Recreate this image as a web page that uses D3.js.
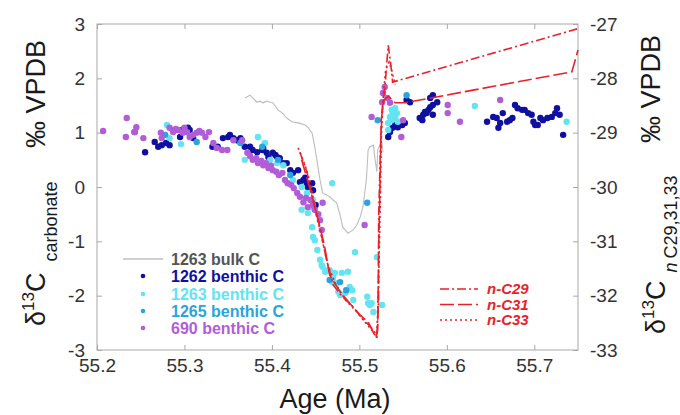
<!DOCTYPE html>
<html>
<head>
<meta charset="utf-8">
<script src="https://cdn.jsdelivr.net/npm/d3@7"></script>
<style>
  body { margin: 0; background: #fff; }
  svg { font-family: "Liberation Sans", Arial, sans-serif; }
</style>
</head>
<body>
<div id="chart"></div>
<script>
// ages (Ma) and d13C values
const xTicks = [55.2, 55.3, 55.4, 55.5, 55.6, 55.7];
const leftTicks = [-3, -2, -1, 0, 1, 2, 3];
const rightTicks = [-33, -32, -31, -30, -29, -28, -27];

// 1263 bulk carbonate (line)
const bulk1263 = [
  [55.369, 1.64], [55.375, 1.69], [55.378, 1.64], [55.383, 1.56], [55.386, 1.58], [55.390, 1.55],
  [55.394, 1.58], [55.398, 1.56], [55.401, 1.55], [55.407, 1.42], [55.412, 1.36], [55.417, 1.27],
  [55.423, 1.20], [55.430, 1.18], [55.438, 1.14], [55.441, 1.10], [55.446, 0.99], [55.449, 0.74],
  [55.452, 0.44], [55.455, 0.13], [55.458, -0.11], [55.463, -0.15], [55.466, -0.18], [55.470, -0.24],
  [55.474, -0.29], [55.478, -0.52], [55.481, -0.74], [55.487, -0.85], [55.493, -0.79], [55.497, -0.70],
  [55.501, -0.55], [55.504, -0.37], [55.508, 0.13], [55.510, 0.68], [55.512, 0.74], [55.516, 0.77],
  [55.518, 0.50], [55.520, 0.28], [55.521, 0.68], [55.524, 0.79], [55.526, 0.81], [55.527, 0.64]
];

// 1262 benthic
const benthic1262 = [
  [55.243, 1.01], [55.255, 0.64], [55.266, 0.83], [55.270, 0.74], [55.274, 0.77], [55.279, 0.81],
  [55.283, 0.77], [55.289, 1.05], [55.295, 0.92], [55.297, 1.05], [55.304, 1.09], [55.306, 1.05],
  [55.310, 0.90], [55.332, 0.74], [55.338, 0.74], [55.344, 0.90], [55.350, 0.92], [55.352, 0.96],
  [55.356, 0.90], [55.360, 0.86], [55.364, 0.90], [55.369, 0.74], [55.375, 0.74], [55.378, 0.68],
  [55.383, 0.64], [55.389, 0.68], [55.390, 0.72], [55.394, 0.63], [55.396, 0.55], [55.401, 0.63],
  [55.404, 0.59], [55.406, 0.55], [55.409, 0.53], [55.413, 0.44], [55.417, 0.44], [55.421, 0.31],
  [55.424, 0.26], [55.430, 0.31], [55.432, 0.09], [55.436, 0.13], [55.438, 0.17], [55.440, 0.07],
  [55.441, 0.00], [55.446, 0.07], [55.447, -0.06], [55.450, -0.33],
  [55.533, 0.92], [55.535, 1.01], [55.538, 1.09], [55.541, 1.14], [55.544, 1.10], [55.549, 1.14],
  [55.552, 1.18], [55.554, 1.60], [55.558, 1.56], [55.569, 1.27], [55.572, 1.23], [55.573, 1.33],
  [55.575, 1.38], [55.577, 1.36], [55.579, 1.42], [55.581, 1.47], [55.581, 1.64], [55.584, 1.69],
  [55.584, 1.51], [55.589, 1.56], [55.584, 1.33], [55.646, 1.20], [55.653, 1.29], [55.657, 1.27],
  [55.659, 1.09], [55.661, 1.18], [55.664, 1.36], [55.669, 1.20], [55.672, 1.23], [55.675, 1.27],
  [55.678, 1.51], [55.681, 1.45], [55.686, 1.42], [55.689, 1.42], [55.693, 1.36], [55.697, 1.33],
  [55.699, 1.20], [55.701, 1.14], [55.704, 1.14], [55.707, 1.27], [55.710, 1.23], [55.715, 1.27],
  [55.720, 1.29], [55.724, 1.36], [55.726, 1.45], [55.729, 1.33], [55.733, 0.96]
];

// 1263 benthic
const benthic1263 = [
  [55.280, 1.14], [55.283, 0.90], [55.296, 0.79], [55.384, 0.92], [55.392, 0.81], [55.369, 0.50],
  [55.398, 0.50], [55.406, 0.44], [55.413, 0.40], [55.424, 0.13], [55.434, 0.00], [55.440, -0.11],
  [55.447, -0.24], [55.444, -0.37], [55.469, 0.07], [55.434, -0.42], [55.441, -0.48], [55.446, -0.74],
  [55.447, -0.92], [55.449, -0.98], [55.452, -1.16], [55.455, -1.34], [55.457, -1.44], [55.458, -1.47],
  [55.461, -1.56], [55.464, -1.53], [55.466, -1.53], [55.470, -1.66], [55.472, -1.58], [55.480, -1.58],
  [55.487, -1.56], [55.469, -1.75], [55.474, -1.77], [55.476, -1.93], [55.478, -1.99], [55.484, -1.95],
  [55.489, -1.84], [55.492, -1.90], [55.493, -2.08], [55.509, -2.02], [55.510, -2.14], [55.512, -2.17],
  [55.514, -2.14], [55.516, -2.30], [55.526, -2.17], [55.495, -1.20], [55.520, -1.29],
  [55.537, 1.42], [55.541, 1.45], [55.538, 1.36], [55.535, 1.29], [55.541, 1.29], [55.537, 1.23],
  [55.533, 1.18], [55.544, 1.20], [55.543, 1.36], [55.533, 1.05], [55.632, 1.49], [55.737, 1.20]
];

// 1265 benthic
const benthic1265 = [
  [55.278, 0.96], [55.314, 0.83], [55.364, 0.81], [55.389, 0.74], [55.407, 0.50], [55.421, 0.22],
  [55.466, -1.71], [55.478, -1.75], [55.485, -1.90], [55.509, -0.29], [55.521, 1.23], [55.554, 1.69]
];

// 690 benthic
const benthic690 = [
  [55.207, 1.03], [55.234, 1.27], [55.233, 0.92], [55.245, 1.10], [55.243, 1.01], [55.253, 0.90],
  [55.273, 1.00], [55.274, 0.90], [55.283, 1.09], [55.287, 1.01], [55.290, 1.07], [55.293, 1.05],
  [55.298, 1.00], [55.300, 1.09], [55.303, 1.01], [55.306, 0.92], [55.310, 0.96], [55.314, 1.00],
  [55.317, 1.03], [55.320, 1.00], [55.324, 0.92], [55.328, 1.01], [55.333, 0.81], [55.337, 0.72],
  [55.343, 0.68], [55.349, 0.68], [55.356, 0.86], [55.366, 0.86], [55.372, 0.63], [55.375, 0.57],
  [55.378, 0.50], [55.382, 0.53], [55.384, 0.44], [55.388, 0.48], [55.390, 0.40], [55.393, 0.44],
  [55.396, 0.35], [55.399, 0.39], [55.401, 0.31], [55.405, 0.28], [55.408, 0.22], [55.412, 0.26],
  [55.415, 0.13], [55.418, 0.07], [55.422, 0.04], [55.425, -0.02], [55.429, -0.11], [55.432, -0.18],
  [55.436, -0.28], [55.439, -0.20], [55.441, -0.37], [55.444, -0.24], [55.447, -0.33], [55.449, -0.42],
  [55.453, -0.50], [55.455, -0.61], [55.457, -0.79], [55.458, -0.29], [55.506, -0.70], [55.514, 1.29],
  [55.526, 1.56], [55.527, 1.73], [55.529, 1.84], [55.532, 1.64], [55.535, 1.55], [55.548, 0.92],
  [55.550, 1.23], [55.601, 1.51], [55.601, 1.36], [55.615, 1.20], [55.661, 1.60]
];

// n-alkane d13C (right axis)
const nC29 = [
  [55.432, -29.36], [55.440, -29.72], [55.447, -30.24], [55.455, -30.75], [55.462, -31.31],
  [55.470, -31.80], [55.480, -32.01], [55.492, -32.19], [55.503, -32.41], [55.512, -32.56],
  [55.520, -32.72], [55.522, -32.08], [55.522, -30.61], [55.524, -29.32], [55.526, -28.58],
  [55.529, -28.21], [55.533, -27.39], [55.536, -27.75], [55.538, -28.07], [55.749, -27.09]
];
const nC31 = [
  [55.434, -29.50], [55.444, -30.06], [55.453, -30.61], [55.460, -31.07], [55.466, -31.62],
  [55.478, -31.93], [55.489, -32.14], [55.501, -32.36], [55.510, -32.48], [55.519, -32.78],
  [55.521, -32.63], [55.522, -31.16], [55.524, -29.69], [55.525, -28.77], [55.528, -28.40],
  [55.533, -28.33], [55.541, -28.45], [55.552, -28.45], [55.743, -27.88], [55.750, -27.48]
];
const nC33 = [
  [55.430, -29.28], [55.438, -29.60], [55.444, -29.93], [55.450, -30.42], [55.457, -30.94],
  [55.464, -31.44], [55.472, -31.75], [55.484, -32.08], [55.495, -32.26], [55.506, -32.48],
  [55.517, -32.69], [55.520, -32.78], [55.522, -31.71], [55.524, -30.24], [55.525, -29.14],
  [55.527, -28.40], [55.530, -27.85], [55.534, -27.70], [55.537, -27.85], [55.541, -28.12]
];

const benthicSeries = [
  {name: "1262 benthic C", data: benthic1262, color: "#1010a0"},
  {name: "1263 benthic C", data: benthic1263, color: "#62e4f2"},
  {name: "1265 benthic C", data: benthic1265, color: "#2aa4dc"},
  {name: "690 benthic C", data: benthic690, color: "#b25cd8"}
];
const alkaneSeries = [
  {name: "n-C29", data: nC29, dash: "9,3,2,3"},
  {name: "n-C31", data: nC31, dash: "14,4"},
  {name: "n-C33", data: nC33, dash: "2,3"}
];

const W = 680, H = 415;
const plot = {left: 97, right: 578, top: 24, bottom: 350};
const red = "#e8222a";
const frameColor = "#a8a8a8";
const tickText = "#333";

const svg = d3.select("#chart").append("svg")
  .attr("width", W).attr("height", H);

const x = d3.scaleLinear().domain([55.2, 55.75]).range([plot.left, plot.right]);
const yL = d3.scaleLinear().domain([-3, 3]).range([plot.bottom, plot.top]);
const yR = d3.scaleLinear().domain([-33, -27]).range([plot.bottom, plot.top]);

// frame
svg.append("rect")
  .attr("x", plot.left).attr("y", plot.top)
  .attr("width", plot.right - plot.left).attr("height", plot.bottom - plot.top)
  .attr("fill", "none").attr("stroke", frameColor).attr("stroke-width", 1);

function styleAxis(g, size) {
  g.select(".domain").remove();
  g.selectAll(".tick line").attr("stroke", frameColor);
  g.selectAll(".tick text").attr("fill", tickText).attr("font-size", size);
}

const minus = d => d3.format("d")(d).replace("\u2212", "-");

svg.append("g")
  .attr("transform", `translate(0,${plot.bottom})`)
  .call(d3.axisBottom(x).tickValues(xTicks).tickFormat(d3.format(".1f")).tickSize(-5).tickPadding(9))
  .call(g => styleAxis(g, 19));

svg.append("g")
  .attr("transform", `translate(0,${plot.top})`)
  .call(d3.axisTop(x).tickValues(xTicks).tickFormat("").tickSize(-5))
  .call(g => styleAxis(g, 19));

svg.append("g")
  .attr("transform", `translate(${plot.left},0)`)
  .call(d3.axisLeft(yL).tickValues(leftTicks).tickFormat(minus).tickSize(-5).tickPadding(12))
  .call(g => styleAxis(g, 19));

svg.append("g")
  .attr("transform", `translate(${plot.right},0)`)
  .call(d3.axisRight(yR).tickValues(rightTicks).tickFormat(minus).tickSize(-5).tickPadding(12))
  .call(g => styleAxis(g, 19));

// bulk line
const lineL = d3.line().x(d => x(d[0])).y(d => yL(d[1]));
svg.append("path")
  .datum(bulk1263)
  .attr("d", lineL)
  .attr("fill", "none")
  .attr("stroke", "#bdbdbd")
  .attr("stroke-width", 1.1);

// benthic dots
benthicSeries.forEach(s => {
  svg.append("g")
    .selectAll("circle")
    .data(s.data)
    .join("circle")
    .attr("cx", d => x(d[0]))
    .attr("cy", d => yL(d[1]))
    .attr("r", 3.2)
    .attr("fill", s.color);
});

// n-alkane lines on the right axis
const lineR = d3.line().x(d => x(d[0])).y(d => yR(d[1]));
alkaneSeries.forEach(s => {
  svg.append("path")
    .datum(s.data)
    .attr("d", lineR)
    .attr("fill", "none")
    .attr("stroke", red)
    .attr("stroke-width", 1.6)
    .attr("stroke-dasharray", s.dash);
});

// left legend
const legL = svg.append("g").attr("font-size", 16).attr("font-weight", "bold");
const legRows = [259, 276, 294, 311, 328];
legL.append("line")
  .attr("x1", 123).attr("x2", 163).attr("y1", legRows[0]).attr("y2", legRows[0])
  .attr("stroke", "#c0c0c0").attr("stroke-width", 1.5);
legL.append("text")
  .attr("x", 171).attr("y", legRows[0]).attr("dy", "0.35em")
  .attr("fill", "#555").text("1263 bulk C");
benthicSeries.forEach((s, i) => {
  legL.append("circle")
    .attr("cx", 143).attr("cy", legRows[i + 1]).attr("r", 2.3).attr("fill", s.color);
  legL.append("text")
    .attr("x", 171).attr("y", legRows[i + 1]).attr("dy", "0.35em")
    .attr("fill", s.color).text(s.name);
});

// right legend
const legR = svg.append("g").attr("font-size", 15).attr("font-weight", "bold").attr("font-style", "italic");
alkaneSeries.forEach((s, i) => {
  const yy = 289 + i * 15.5;
  legR.append("line")
    .attr("x1", 440).attr("x2", 478).attr("y1", yy).attr("y2", yy)
    .attr("stroke", red).attr("stroke-width", 1.6).attr("stroke-dasharray", s.dash);
  legR.append("text")
    .attr("x", 487).attr("y", yy).attr("dy", "0.34em")
    .attr("fill", red).text(s.name);
});

// axis titles
svg.append("text")
  .attr("x", 335).attr("y", 408)
  .attr("text-anchor", "middle")
  .attr("font-size", 27)
  .attr("fill", "#1a1a1a")
  .text("Age (Ma)");

const tl = svg.append("text")
  .attr("transform", "translate(45,326) rotate(-90)")
  .attr("fill", "#1a1a1a")
  .attr("font-size", 27);
tl.append("tspan").text("\u03b4");
tl.append("tspan").attr("font-size", 17).attr("dy", -11).text("13");
tl.append("tspan").attr("dy", 11).text("C");
tl.append("tspan").attr("font-size", 18).attr("dx", 11).attr("dy", 12).text("carbonate");

svg.append("text")
  .attr("transform", "translate(45,94) rotate(-90)")
  .attr("text-anchor", "middle")
  .attr("fill", "#1a1a1a")
  .attr("font-size", 27)
  .text("\u2030 VPDB");

const tr = svg.append("text")
  .attr("transform", "translate(665,334) rotate(-90)")
  .attr("fill", "#1a1a1a")
  .attr("font-size", 27);
tr.append("tspan").text("\u03b4");
tr.append("tspan").attr("font-size", 17).attr("dy", -11).text("13");
tr.append("tspan").attr("dy", 11).text("C");
tr.append("tspan").attr("font-size", 18).attr("dx", 8).attr("dy", 12).attr("font-style", "italic").text("n");
tr.append("tspan").attr("font-size", 18).attr("dx", 4).text("C29,31,33");

svg.append("text")
  .attr("transform", "translate(660,89) rotate(-90)")
  .attr("text-anchor", "middle")
  .attr("fill", "#1a1a1a")
  .attr("font-size", 27)
  .text("\u2030 VPDB");
</script>
</body>
</html>
